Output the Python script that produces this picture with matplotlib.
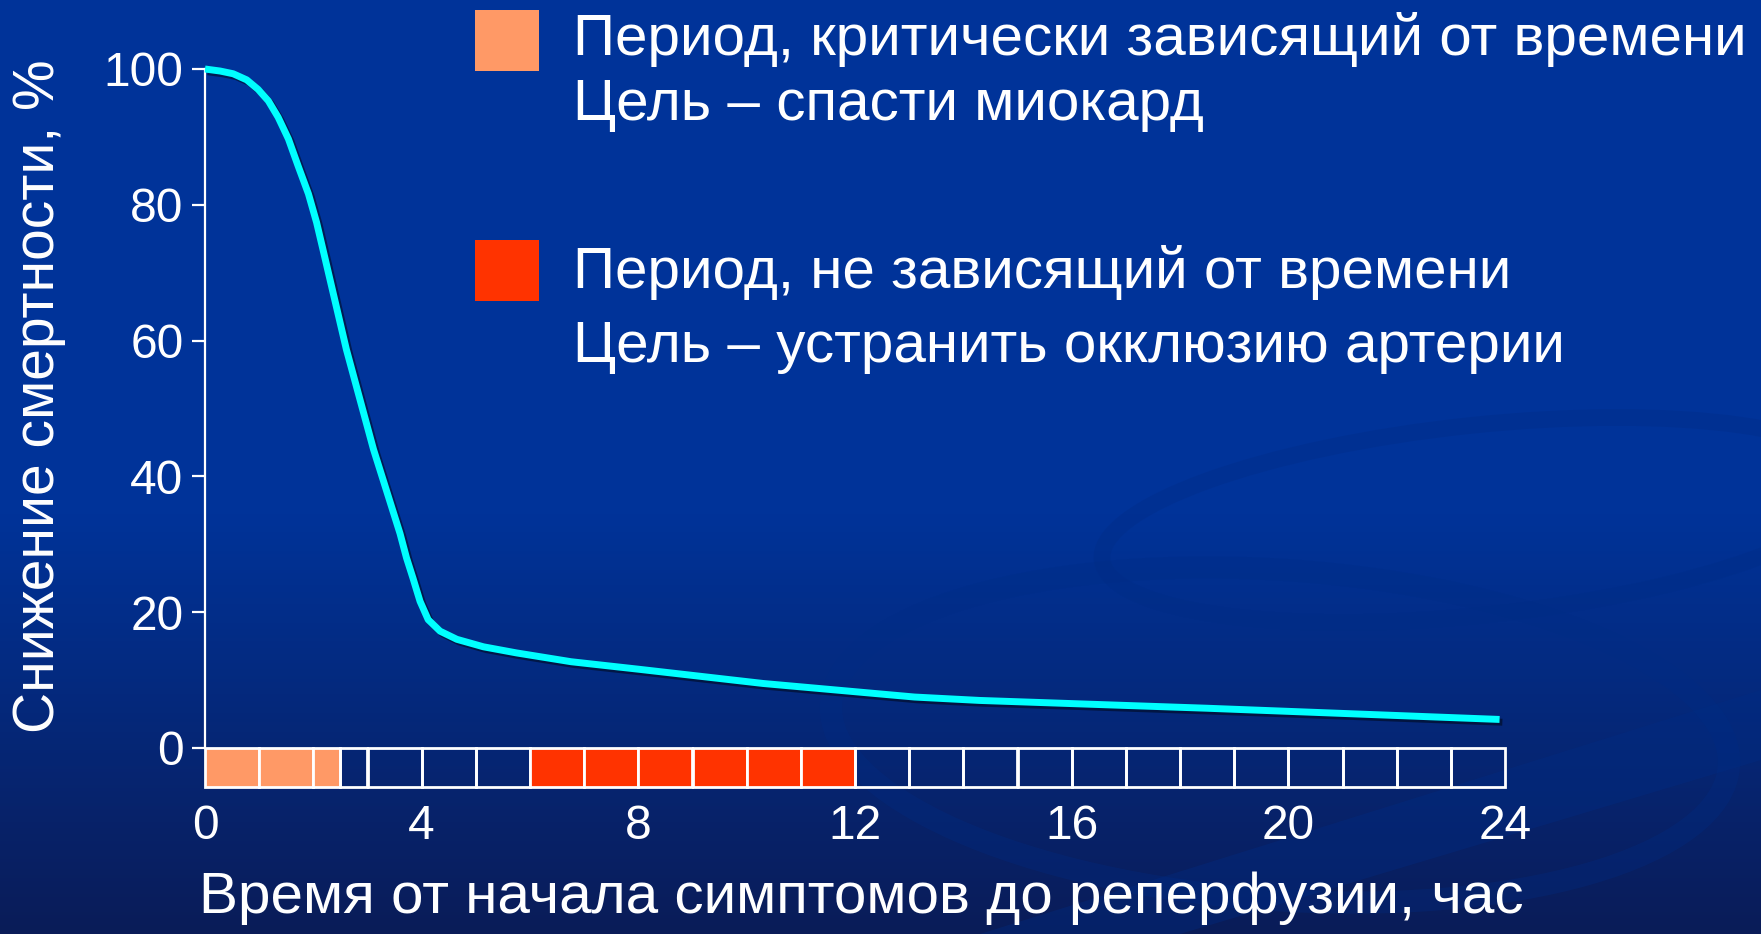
import numpy as np
import matplotlib
matplotlib.use("Agg")
import matplotlib.pyplot as plt
from matplotlib.patches import Rectangle, Ellipse, Polygon
import matplotlib.patheffects as pe

plt.rcParams['font.family'] = ['Liberation Sans', 'DejaVu Sans']

# ---- data ----
hours = [0, 0.28, 0.52, 0.77, 0.98, 1.17, 1.35, 1.54, 1.72, 1.91, 2.06, 2.19, 2.61,
         3.11, 3.6, 3.72, 3.84, 3.97, 4.12, 4.34, 4.65, 5.14, 5.75, 6.76, 8.0, 10.3,
         13.1, 14.3, 18.5, 23.9]
mortality_reduction = [100, 99.7, 99.3, 98.4, 97.0, 95.3, 92.9, 89.7, 85.7, 81.6, 77.4,
                       73.0, 58.7, 44.0, 31.6, 28.0, 25.0, 21.6, 18.9, 17.2, 16.0, 14.9,
                       14.0, 12.7, 11.6, 9.5, 7.5, 7.0, 5.85, 4.2]

# timeline cells: (start hour, end hour, category)
cell_starts = [0, 1, 2, 2.5, 3, 4, 5, 6, 7, 8, 9, 10, 11, 12, 13, 14, 15, 16, 17, 18, 19, 20, 21, 22, 23]
cell_ends   = [1, 2, 2.5, 3, 4, 5, 6, 7, 8, 9, 10, 11, 12, 13, 14, 15, 16, 17, 18, 19, 20, 21, 22, 23, 24]
cell_cat    = ['crit', 'crit', 'crit', 'none', 'none', 'none', 'none',
               'nontime', 'nontime', 'nontime', 'nontime', 'nontime', 'nontime',
               'none', 'none', 'none', 'none', 'none', 'none', 'none', 'none',
               'none', 'none', 'none', 'none']

x_ticks = [0, 4, 8, 12, 16, 20, 24]
y_ticks = [0, 20, 40, 60, 80, 100]

xlabel = "Время от начала симптомов до реперфузии, час"
ylabel = "Снижение смертности, %"
legend_lines = [("Период, критически зависящий от времени", "Цель – спасти миокард"),
                ("Период, не зависящий от времени", "Цель – устранить окклюзию артерии")]

# ---- style ----
W, H = 1761, 934
BG = '#003399'
COL = {'crit': '#FF9966', 'nontime': '#FF3300', 'none': 'none'}
TXT = 42

fig = plt.figure(figsize=(W / 100, H / 100), dpi=100)

# background gradient
bg = fig.add_axes([0, 0, 1, 1], zorder=-10)
grad = np.linspace(0, 1, 300)
top = np.array([0x0A, 0x1C, 0x58]) / 255
bot = np.array([0x00, 0x33, 0x99]) / 255
t = np.clip(grad / 0.45, 0, 1)[:, None]
img = (top * (1 - t) + bot * t)[:, None, :]
bg.imshow(img, aspect='auto', extent=[0, W, 0, H], origin='upper')
bg.set_xlim(0, W)
bg.set_ylim(H, 0)
bg.axis('off')
# faint decorative swirls
swirl = '#002C85'
bg.add_patch(Ellipse((1480, 520), 760, 190, angle=-6, facecolor='none', edgecolor=swirl,
                     lw=12, alpha=0.35))
bg.add_patch(Ellipse((1280, 735), 900, 330, angle=4, facecolor='none', edgecolor=swirl,
                     lw=16, alpha=0.3))
bg.add_patch(Polygon([(980, 934), (1761, 690), (1761, 760), (1180, 934)], closed=True,
                     facecolor=swirl, edgecolor='none', alpha=0.35))

# main axes
px_left, px_right = 205, 1505
px_top, px_bot = 69, 787
ax = fig.add_axes([px_left / W, (H - px_bot) / H, (px_right - px_left) / W, (px_bot - px_top) / H])
ax.patch.set_alpha(0)
ax.set_xlim(0, 24)
ax.set_ylim(-5.75, 100)

ax.plot(hours, mortality_reduction, color='#00FFFF', lw=5.0, solid_capstyle='butt',
        solid_joinstyle='round',
        path_effects=[pe.SimpleLineShadow(offset=(2, -2), shadow_color='black', alpha=0.45),
                      pe.Normal()], zorder=5, clip_on=False)

for s, e, c in zip(cell_starts, cell_ends, cell_cat):
    ax.add_patch(Rectangle((s, -5.75), e - s, 5.75, facecolor=COL[c], edgecolor='white',
                           lw=2.0, zorder=3, clip_on=False))

for sp in ['top', 'right', 'bottom']:
    ax.spines[sp].set_visible(False)
ax.spines['left'].set_color('white')
ax.spines['left'].set_linewidth(1.6)
ax.spines['left'].set_bounds(0, 100)

ax.set_yticks(y_ticks)
ax.set_yticklabels([str(v) for v in y_ticks])
ax.set_xticks(x_ticks)
ax.set_xticklabels([str(v) for v in x_ticks])
ax.tick_params(axis='y', colors='white', labelsize=34.5, length=9.5, width=1.6, pad=6)
ax.tick_params(axis='x', colors='white', labelsize=34.5, length=0, pad=12)

fig.text(861 / W, 1 - 898 / H, xlabel, color='white', fontsize=TXT, ha='center', va='center')
fig.text(39 / W, 1 - 396 / H, ylabel, color='white', fontsize=41, ha='center', va='center',
         rotation=90)

# legend
sq_colors = [COL['crit'], COL['nontime']]
sq_tops = [10, 240]
line_baselines = [(55, 120), (288, 362)]
for (l1, l2), c, st, (b1, b2) in zip(legend_lines, sq_colors, sq_tops, line_baselines):
    fig.patches.append(Rectangle((475 / W, 1 - (st + 61) / H), 64 / W, 61 / H,
                                 transform=fig.transFigure, facecolor=c, edgecolor='none'))
    fig.text(573 / W, 1 - b1 / H, l1, color='white', fontsize=TXT, ha='left', va='baseline')
    fig.text(573 / W, 1 - b2 / H, l2, color='white', fontsize=TXT, ha='left', va='baseline')

fig.savefig('out.png', dpi=100, facecolor=BG)
